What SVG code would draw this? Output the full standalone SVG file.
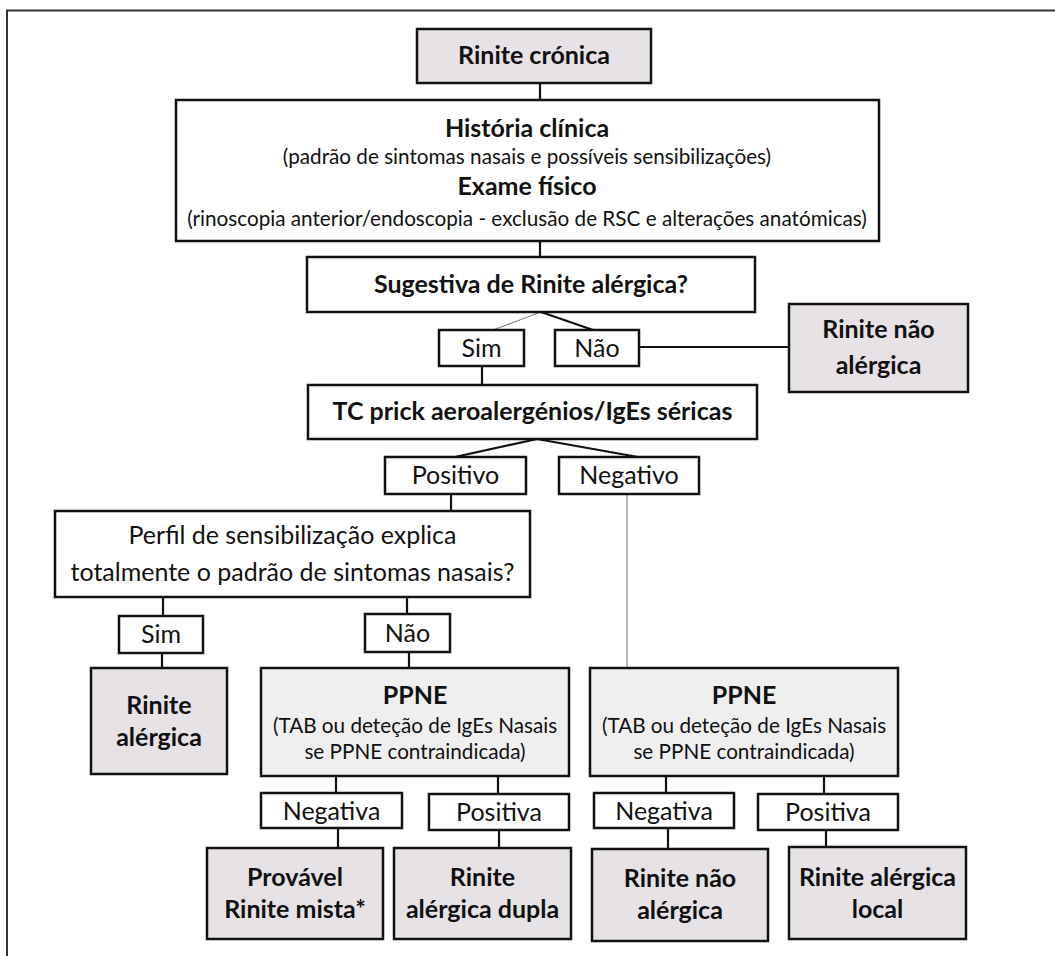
<svg xmlns="http://www.w3.org/2000/svg" width="1055" height="956" viewBox="0 0 1055 956">
<style>
.box{stroke:#111;stroke-width:2.5;fill:#fff}
.g{fill:#e6e2e6}
.lg{fill:#efefef}
.c{stroke:#111;stroke-width:2.2;fill:none}
.t{stroke:#777;stroke-width:1;fill:none}
text{font-family:Lato,"Liberation Sans",sans-serif;fill:#111;text-anchor:middle}
.b{font-weight:bold;font-size:25px}
.r{font-size:25px}
.s{font-size:20.7px}
</style>
<rect width="1055" height="956" fill="#fff"/>
<path d="M7,956 V10.5 H1055" stroke="#333" stroke-width="2" fill="none"/>
<g id="connectors">
<path class="c" d="M540,83 V100"/>
<path class="c" d="M540,241 V257"/>
<path class="t" d="M541,312 L493,330"/>
<path class="c" d="M541,312 L593,330"/>
<path class="c" d="M639,347 H789"/>
<path class="c" d="M482,366 V385"/>
<path class="c" d="M537,439 L455,457 M537,439 L638,457"/>
<path class="c" d="M451,494 V511"/>
<path class="t" d="M627,494 V668"/>
<path class="c" d="M163,597 V616"/>
<path class="c" d="M407,597 V614"/>
<path class="c" d="M162,653 V668"/>
<path class="c" d="M409,652 V668"/>
<path class="c" d="M336,776 V793 M498,776 V794"/>
<path class="c" d="M338,828 V848 M499,830 V848"/>
<path class="c" d="M666,776 V793 M824,776 V794"/>
<path class="c" d="M668,828 V849 M826,830 V847"/>
</g>
<g id="cronica"><rect class="box g" x="417" y="29" width="234" height="54"/><text class="b" x="534" y="64">Rinite crónica</text></g>
<g id="historia"><rect class="box" x="176" y="100" width="703" height="141"/>
<text class="b" x="527" y="137">História clínica</text>
<text class="s" x="527" y="164">(padrão de sintomas nasais e possíveis sensibilizações)</text>
<text class="b" x="527" y="195">Exame físico</text>
<text class="s" x="527" y="226">(rinoscopia anterior/endoscopia - exclusão de RSC e alterações anatómicas)</text></g>
<g id="sugestiva"><rect class="box" x="307" y="257" width="448" height="55"/><text class="b" x="531" y="293">Sugestiva de Rinite alérgica?</text></g>
<g id="sim1"><rect class="box" x="439" y="330" width="85" height="36"/><text class="r" x="481.5" y="357">Sim</text></g>
<g id="nao1"><rect class="box" x="555" y="330" width="84" height="36"/><text class="r" x="597" y="357">Não</text></g>
<g id="rna1"><rect class="box g" x="789" y="304" width="179" height="88"/><text class="b" x="878.5" y="338">Rinite não</text><text class="b" x="878.5" y="374">alérgica</text></g>
<g id="tc"><rect class="box" x="308" y="385" width="449" height="54"/><text class="b" x="532.5" y="420">TC prick aeroalergénios/IgEs séricas</text></g>
<g id="positivo"><rect class="box" x="385" y="457" width="141" height="37"/><text class="r" x="455.5" y="484">Positivo</text></g>
<g id="negativo"><rect class="box" x="559" y="457" width="140" height="37"/><text class="r" x="629" y="484">Negativo</text></g>
<g id="perfil"><rect class="box" x="55" y="511" width="475" height="86"/><text class="r" x="292.5" y="544">Perfil de sensibilização explica</text><text class="r" x="292.5" y="581">totalmente o padrão de sintomas nasais?</text></g>
<g id="sim2"><rect class="box" x="119" y="616" width="84" height="37"/><text class="r" x="161" y="643">Sim</text></g>
<g id="nao2"><rect class="box" x="365" y="614" width="85" height="38"/><text class="r" x="407.5" y="642">Não</text></g>
<g id="ralergica"><rect class="box g" x="91" y="668" width="136" height="106"/><text class="b" x="159" y="714">Rinite</text><text class="b" x="159" y="746">alérgica</text></g>
<g id="ppne1"><rect class="box lg" x="261" y="668" width="308" height="108"/><text class="b" x="415" y="704">PPNE</text><text class="s" x="415" y="733">(TAB ou deteção de IgEs Nasais</text><text class="s" x="415" y="759">se PPNE contraindicada)</text></g>
<g id="ppne2"><rect class="box lg" x="590" y="668" width="308" height="108"/><text class="b" x="744" y="704">PPNE</text><text class="s" x="744" y="733">(TAB ou deteção de IgEs Nasais</text><text class="s" x="744" y="759">se PPNE contraindicada)</text></g>
<g id="neg1"><rect class="box" x="261" y="793" width="141" height="35"/><text class="r" x="331.5" y="820">Negativa</text></g>
<g id="pos1"><rect class="box" x="429" y="794" width="140" height="36"/><text class="r" x="499" y="821">Positiva</text></g>
<g id="neg2"><rect class="box" x="594" y="793" width="140" height="35"/><text class="r" x="664" y="820">Negativa</text></g>
<g id="pos2"><rect class="box" x="758" y="794" width="140" height="36"/><text class="r" x="828" y="821">Positiva</text></g>
<g id="provavel"><rect class="box g" x="207" y="848" width="176" height="91"/><text class="b" x="295" y="886">Provável</text><text class="b" x="295" y="918">Rinite mista*</text></g>
<g id="dupla"><rect class="box g" x="394" y="848" width="177" height="91"/><text class="b" x="482.5" y="886">Rinite</text><text class="b" x="482.5" y="918">alérgica dupla</text></g>
<g id="rna2"><rect class="box g" x="592" y="849" width="176" height="92"/><text class="b" x="680" y="887">Rinite não</text><text class="b" x="680" y="919">alérgica</text></g>
<g id="local"><rect class="box g" x="789" y="847" width="177" height="92"/><text class="b" x="877.5" y="886">Rinite alérgica</text><text class="b" x="877.5" y="918">local</text></g>
</svg>
